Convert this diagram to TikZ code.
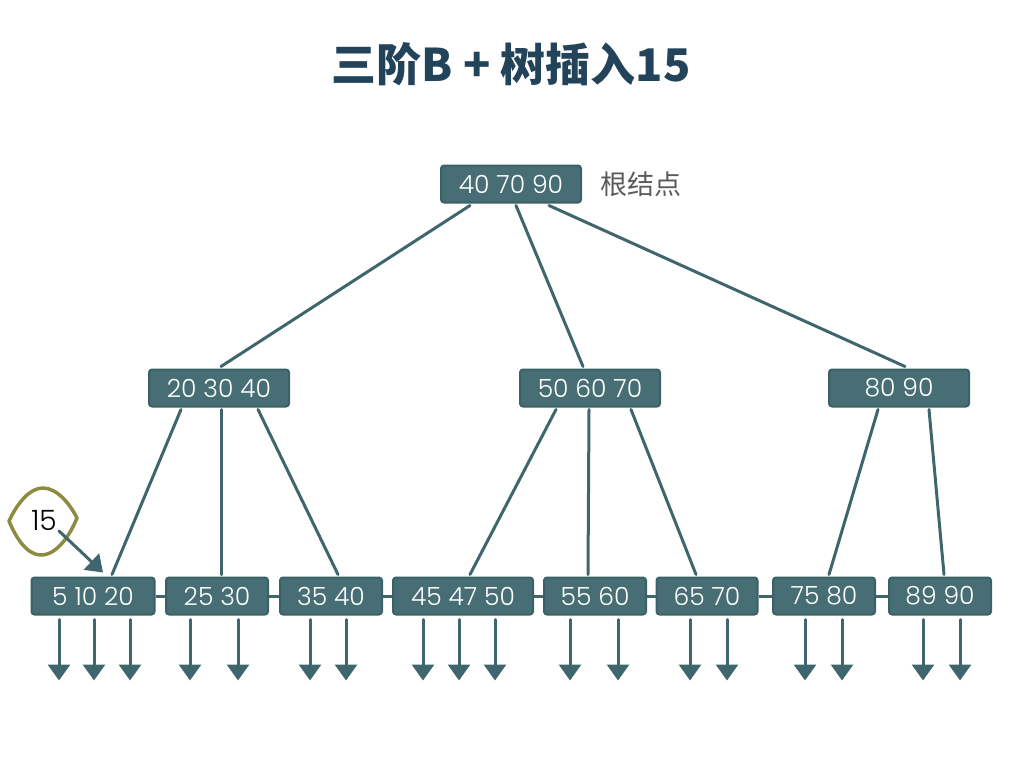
\documentclass[tikz,border=0pt]{standalone}
\usepackage{fontspec}
\setmainfont{Poppins}
\newfontfamily\numfont{Poppins Light}
\newfontfamily\cjk{Noto Sans CJK SC}
\usetikzlibrary{calc,arrows.meta}
\definecolor{nodefill}{HTML}{466E74}
\definecolor{nodeborder}{HTML}{3B6167}
\definecolor{edgecol}{HTML}{3F666C}
\definecolor{titlecol}{HTML}{23435A}
\definecolor{olivecol}{HTML}{8C8B40}
\definecolor{labelgray}{HTML}{5A5A5A}
\tikzset{
  keybox/.style={draw=nodeborder, line width=2pt, fill=nodefill, rounded corners=3pt,
    text=white, font=\numfont\fontsize{25}{25}\selectfont, minimum height=37, inner sep=0pt},
  edge/.style={draw=edgecol, line width=3pt, line cap=round},
  link/.style={draw=edgecol, line width=3pt},
  down/.style={draw=edgecol, line width=3pt, line cap=round, -{Triangle[length=16pt,width=22pt]}},
}
\begin{document}
\begin{tikzpicture}[x=1pt,y=-1pt]
\useasboundingbox (0,0) rectangle (1024,768);
% title
\node[text=titlecol, font=\cjk\bfseries\fontsize{45}{45}\selectfont] (title) at (511,64) {三阶B + 树插入15};
% root
\node[keybox, minimum width=140] (r) at (511,184) {40 70 90};
\node[text=labelgray, font=\cjk\fontsize{27}{27}\selectfont, anchor=west] (rl) at (597,184) {根结点};
% middle
\node[keybox, minimum width=140] (m1) at (219,388) {20 30 40};
\node[keybox, minimum width=140] (m2) at (590,388) {50 60 70};
\node[keybox, minimum width=140] (m3) at (899,388) {80 90};
% leaves
\node[keybox, minimum width=123] (l1) at (93,596) {5 10 20};
\node[keybox, minimum width=102] (l2) at (217,596) {25 30};
\node[keybox, minimum width=102] (l3) at (331,596) {35 40};
\node[keybox, minimum width=140] (l4) at (463,596) {45 47 50};
\node[keybox, minimum width=102] (l5) at (595,596) {55 60};
\node[keybox, minimum width=101] (l6) at (707,596) {65 70};
\node[keybox, minimum width=102] (l7) at (824,596) {75 80};
\node[keybox, minimum width=102] (l8) at (940,596) {89 90};
% leaf links
\foreach \a/\b in {l1/l2,l2/l3,l3/l4,l4/l5,l5/l6,l6/l7,l7/l8}
  \draw[link] (\a.east) -- (\b.west);
% tree edges
\draw[edge] ($(r.south)+(-41,2)$) -- ($(m1.north)+(2,-2)$);
\draw[edge] ($(r.south)+(5,2)$) -- ($(m2.north)+(-7,-2)$);
\draw[edge] ($(r.south)+(38,2)$) -- ($(m3.north)+(6,-2)$);
\draw[edge] ($(m1.south)+(-38,2)$) -- ($(l1.north)+(19,-2)$);
\draw[edge] ($(m1.south)+(2,2)$) -- ($(l2.north)+(4,-2)$);
\draw[edge] ($(m1.south)+(39,2)$) -- ($(l3.north)+(7,-2)$);
\draw[edge] ($(m2.south)+(-34,2)$) -- ($(l4.north)+(7,-2)$);
\draw[edge] ($(m2.south)+(-1,2)$) -- ($(l5.north)+(-7,-2)$);
\draw[edge] ($(m2.south)+(41,2)$) -- ($(l6.north)+(-11,-2)$);
\draw[edge] ($(m3.south)+(-21,2)$) -- ($(l7.north)+(5,-2)$);
\draw[edge] ($(m3.south)+(30,2)$) -- ($(l8.north)+(4,-2)$);
% leaf pointers
\foreach \n/\dx in {l1/-34,l1/1,l1/37,l2/-27,l2/21,l3/-21,l3/15,l4/-40,l4/-4,l4/32,l5/-25,l5/23,l6/-17,l6/20,l7/-19,l7/18,l8/-17,l8/20}
  \draw[down] ($(\n.south)+(\dx,4)$) -- ++(0,61);
% inserted key 15
\draw[olivecol, line width=3.5pt, line join=round]
  (9,521) .. controls (18,502) and (30,488) .. (43,488)
  .. controls (57,488) and (70,504) .. (77,518)
  .. controls (70,535) and (57,555) .. (41,555)
  .. controls (27,555) and (16,538) .. (9,521) -- cycle;
\node[text=black, font=\numfont\fontsize{28}{28}\selectfont, inner sep=0pt] (n15) at (44,520) {15};
\draw[down] ($(n15.center)+(15,11)$) -- ($(l1.north)+(10,-4)$);
\end{tikzpicture}
\end{document}
